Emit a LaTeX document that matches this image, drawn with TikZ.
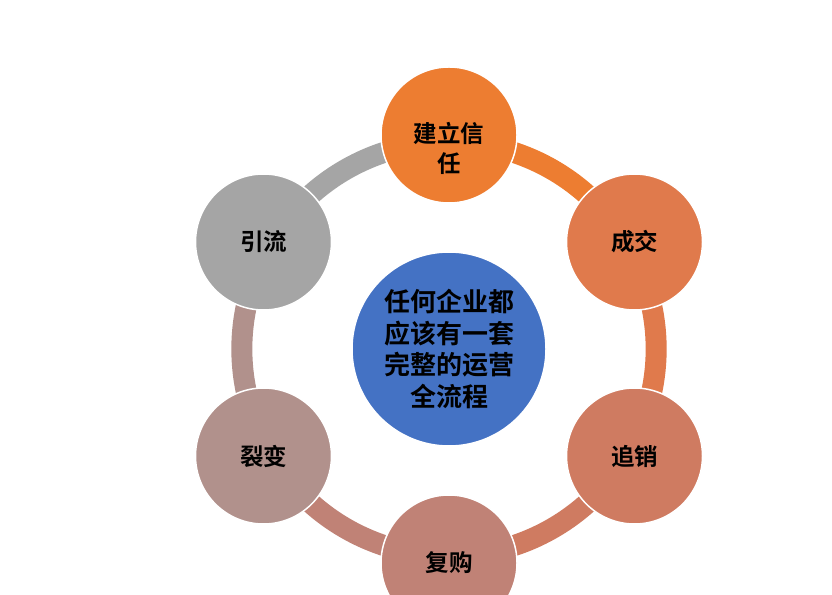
\documentclass[tikz,border=0pt]{standalone}
\usepackage{fontspec}
\newfontfamily\cjk{Noto Sans CJK SC}[BoldFont={Noto Sans CJK SC Bold}]
\usetikzlibrary{backgrounds}
\definecolor{cA}{RGB}{237,125,49}
\definecolor{cB}{RGB}{224,122,76}
\definecolor{cC}{RGB}{207,123,97}
\definecolor{cD}{RGB}{192,130,118}
\definecolor{cE}{RGB}{177,145,140}
\definecolor{cF}{RGB}{165,165,165}
\definecolor{cBlue}{RGB}{68,114,196}
\tikzset{
  steptext/.style={font=\cjk\bfseries\fontsize{23.5}{30}\selectfont, text=black, align=center},
  stepnode/.style={circle, minimum size=136pt, inner sep=0pt, draw=white, line width=1.5pt, steptext},
  hubnode/.style={circle, minimum size=194pt, inner sep=0pt, draw=white, line width=1.5pt,
    fill=cBlue, font=\cjk\bfseries\fontsize{26}{31.7}\selectfont, text=black, align=center},
  ringseg/.style={line width=21pt, line cap=butt}
}
\begin{document}
\begin{tikzpicture}[x=1pt,y=1pt]
\useasboundingbox (0,0) rectangle (832,594);
\node[hubnode] (hub) at (449,245) {任何企业都\\应该有一套\\完整的运营\\全流程};
\node[stepnode, fill=cA] (n1) at (449,459) {};
\node[steptext] (t1) at (449,446) {建立信\\任};
\node[stepnode, fill=cB] (n2) at (634.5,352) {成交};
\node[stepnode, fill=cC] (n3) at (634.5,138) {追销};
\node[stepnode, fill=cD] (n4) at (449,31) {复购};
\node[stepnode, fill=cE] (n5) at (263.5,138) {裂变};
\node[stepnode, fill=cF] (n6) at (263.5,352) {引流};
\begin{pgfonlayer}{background}
\fill[white] (0,0) rectangle (832,594);
\draw[ringseg, cA] ([shift={(270:7)}]n1.center) arc[start angle=90, end angle=30, radius=207];
\draw[ringseg, cB] ([shift={(210:7)}]n2.center) arc[start angle=30, end angle=-30, radius=207];
\draw[ringseg, cC] ([shift={(150:7)}]n3.center) arc[start angle=-30, end angle=-90, radius=207];
\draw[ringseg, cD] ([shift={(90:7)}]n4.center) arc[start angle=-90, end angle=-150, radius=207];
\draw[ringseg, cE] ([shift={(30:7)}]n5.center) arc[start angle=210, end angle=150, radius=207];
\draw[ringseg, cF] ([shift={(330:7)}]n6.center) arc[start angle=150, end angle=90, radius=207];
\end{pgfonlayer}
\end{tikzpicture}
\end{document}
